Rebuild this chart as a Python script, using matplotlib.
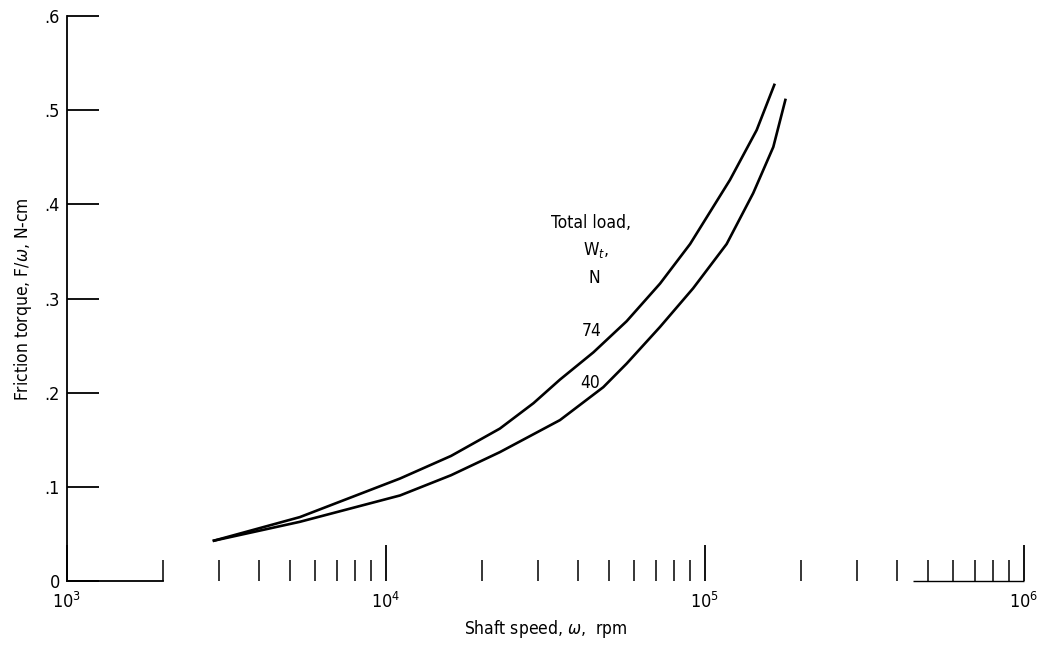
#Header files
import numpy as np
import matplotlib
matplotlib.use("Agg")
import matplotlib.pyplot as plt
from matplotlib.ticker import LogLocator, FixedLocator, NullFormatter

plt.rcParams['font.family'] = ['DejaVu Sans']
plt.rcParams['font.stretch'] = 'condensed'

#Data (shaft speed rpm, friction torque N-cm)
speed74 = [2890, 5370, 11070, 16000, 22750, 29000, 35100, 44700, 56800, 72300, 89800, 119700, 145200, 164900]
torque74 = [0.043, 0.068, 0.109, 0.133, 0.162, 0.189, 0.214, 0.243, 0.276, 0.316, 0.358, 0.426, 0.479, 0.527]

speed40 = [2890, 5370, 11070, 16000, 22750, 35100, 40500, 48000, 56800, 72300, 91800, 116900, 141600, 163700, 178600]
torque40 = [0.043, 0.063, 0.091, 0.1125, 0.137, 0.171, 0.187, 0.206, 0.231, 0.270, 0.311, 0.358, 0.412, 0.461, 0.511]

yticks = [0, 0.1, 0.2, 0.3, 0.4, 0.5, 0.6]
ylabels = ["0", ".1", ".2", ".3", ".4", ".5", ".6"]
xticks = [1e3, 1e4, 1e5, 1e6]
xlabels = ["$10^3$", "$10^4$", "$10^5$", "$10^6$"]

#Figure
fig = plt.figure(figsize=(10.46, 6.45), dpi=100)
ax = fig.add_axes([0.064, 0.099, 0.915, 0.876])

ax.plot(speed74, torque74, color="black", lw=1.9, solid_joinstyle="round")
ax.plot(speed40, torque40, color="black", lw=1.9, solid_joinstyle="round")

ax.set_xscale("log")
ax.set_xlim(1e3, 1e6)
ax.set_ylim(0, 0.6)

ax.spines["top"].set_visible(False)
ax.spines["right"].set_visible(False)
ax.spines["left"].set_linewidth(1.3)
ax.spines["bottom"].set_linewidth(1.3)
# the scanned x axis line is mostly missing
ax.spines["bottom"].set_bounds(1e3, 2e3)
ax.hlines(0, 4.5e5, 1e6, color="black", lw=1.0, clip_on=False)

ax.xaxis.set_major_locator(FixedLocator(xticks))
ax.set_xticklabels(xlabels)
ax.xaxis.set_minor_locator(LogLocator(base=10, subs=np.arange(2, 10), numticks=20))
ax.xaxis.set_minor_formatter(NullFormatter())
ax.tick_params(axis="x", which="major", direction="in", length=26, width=1.3, pad=8, labelsize=13)
ax.tick_params(axis="x", which="minor", direction="in", length=15, width=1.1)

ax.set_yticks(yticks)
ax.set_yticklabels(ylabels)
ax.tick_params(axis="y", direction="in", length=23, width=1.3, pad=5, labelsize=13)

ax.set_xlabel("Shaft speed, $\\omega$,  rpm", fontsize=12.5, labelpad=4)
ax.set_ylabel("Friction torque, F/$\\omega$, N-cm", fontsize=12.5, labelpad=8)

#Curve annotations
ax.text(4.4e4, 0.380, "Total load,", ha="center", va="center", fontsize=12.5)
ax.text(4.55e4, 0.352, "W$_t$,", ha="center", va="center", fontsize=12.5)
ax.text(4.5e4, 0.322, "N", ha="center", va="center", fontsize=12.5)
ax.text(4.4e4, 0.266, "74", ha="center", va="center", fontsize=12.5)
ax.text(4.35e4, 0.210, "40", ha="center", va="center", fontsize=12.5)

plt.savefig("out.png", dpi=100)
